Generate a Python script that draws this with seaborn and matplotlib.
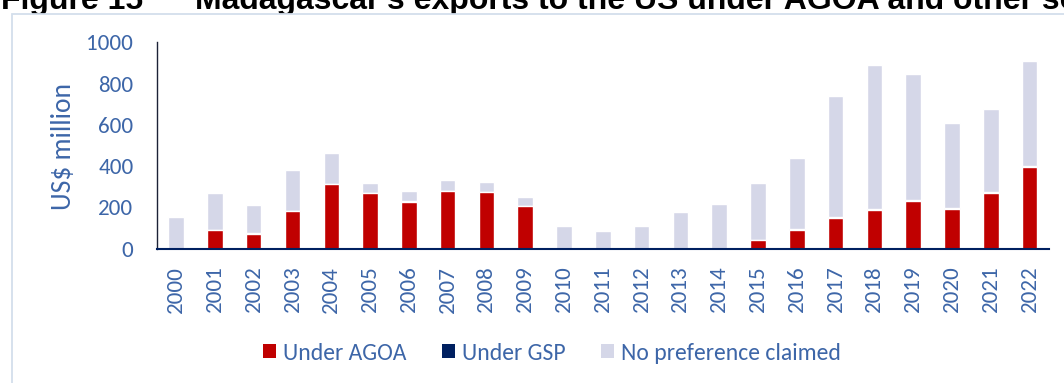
import matplotlib
matplotlib.use("Agg")
import matplotlib.pyplot as plt
from matplotlib import font_manager as fm
from matplotlib.patches import Rectangle, Patch
import seaborn as sns

# ---- data (US$ million) ----
years = [str(y) for y in range(2000, 2023)]
under_agoa = [0, 90, 71, 183, 312, 270, 226, 278, 273, 206, 0, 0, 0, 0, 0,
              40, 92, 149, 188, 231, 190, 270, 394]
under_gsp = [0, 2, 6, 1, 1, 2, 3, 3, 3, 3, 0, 0, 0, 0, 0,
             2, 3, 3, 5, 3, 6, 6, 9]
no_pref = [153, 176, 135, 195, 153, 46, 50, 53, 47, 43, 108, 85, 108, 177, 215,
           278, 345, 590, 695, 611, 413, 399, 505]
series_names = ["Under AGOA", "Under GSP", "No preference claimed"]
yticks = [0, 200, 400, 600, 800, 1000]
title_num = "Figure 15"
title_txt = "Madagascar's exports to the US under AGOA and other schemes"
ylabel = "US$ million"

# ---- style ----
C_AGOA = "#C00000"
C_GSP = "#002060"
C_NONE = "#D5D7E8"
TXT = "#3D66A8"

sns.set_style("white")


def has_font(name):
    try:
        fm.findfont(fm.FontProperties(family=name), fallback_to_default=False)
        return True
    except Exception:
        return False


if has_font("Carlito"):
    FAM, k = "Carlito", 1.0
else:
    FAM, k = "Lato", 0.88
plt.rcParams["font.family"] = [FAM, "DejaVu Sans"]

W, H = 1064, 383
fig = plt.figure(figsize=(W / 100, H / 100), dpi=100)
fig.patch.set_facecolor("white")

# title (partly hidden behind the chart frame, as in the source)
fig.text(1 / W, 1 - 8.5 / H, title_num, ha="left", va="baseline",
         fontsize=23, fontweight="bold", family="Liberation Sans", color="black", zorder=-2)
fig.text(195 / W, 1 - 8.5 / H, title_txt, ha="left", va="baseline",
         fontsize=23, fontweight="bold", family="Liberation Sans", color="black", zorder=-2)

# chart frame
fig.patches.append(Rectangle((12 / W, -0.2), 1.5, (1 - 13.5 / H) + 0.2,
                             transform=fig.transFigure, facecolor="white",
                             edgecolor="#D3DEEC", linewidth=1.3, zorder=-1))

left, right = 156.7 / W, 1049 / W
bottom, top = (H - 248.7) / H, (H - 42.3) / H
ax = fig.add_axes([left, bottom, right - left, top - bottom])
ax.set_facecolor("none")

tot_gsp = [a + g for a, g in zip(under_agoa, under_gsp)]
tot_all = [a + g + n for a, g, n in zip(under_agoa, under_gsp, no_pref)]

sns.barplot(x=years, y=tot_all, color=C_NONE, saturation=1, width=0.4,
            errorbar=None, ax=ax, order=years)
sns.barplot(x=years, y=tot_gsp, color=C_GSP, saturation=1, width=0.4,
            errorbar=None, ax=ax, order=years)
sns.barplot(x=years, y=under_agoa, color=C_AGOA, saturation=1, width=0.4,
            errorbar=None, ax=ax, order=years)

ax.set_xlim(-0.5, len(years) - 0.5)
ax.set_ylim(0, 1000)
ax.set_yticks(yticks)
ax.set_yticklabels([str(v) for v in yticks])
ax.set_xlabel("")
ax.set_ylabel("")

fs = 16.6 * k
ax.tick_params(axis="y", length=0, pad=16.8, labelsize=fs, labelcolor=TXT)
ax.tick_params(axis="x", length=0, pad=12.2, labelsize=fs, labelcolor=TXT,
               labelrotation=90)

for s in ["top", "right"]:
    ax.spines[s].set_visible(False)
ax.spines["left"].set_color("#1C2237")
ax.spines["left"].set_linewidth(1.0)
ax.spines["bottom"].set_color("#002060")
ax.spines["bottom"].set_linewidth(1.5)

fig.text(64 / W, 1 - 146 / H, ylabel, rotation=90, ha="center", va="center",
         fontsize=19.8 * k, color=TXT)

handles = [Patch(facecolor=c, edgecolor="none") for c in (C_AGOA, C_GSP, C_NONE)]
fig.legend(handles, series_names, loc="center", ncol=3,
           bbox_to_anchor=(552 / W, 1 - 353 / H), bbox_transform=fig.transFigure,
           frameon=False, fontsize=17 * k, labelcolor=TXT,
           handlelength=0.55, handleheight=0.55, handletextpad=0.3,
           columnspacing=1.5, borderpad=0, borderaxespad=0)

fig.savefig("out.png", dpi=100, facecolor="white")
